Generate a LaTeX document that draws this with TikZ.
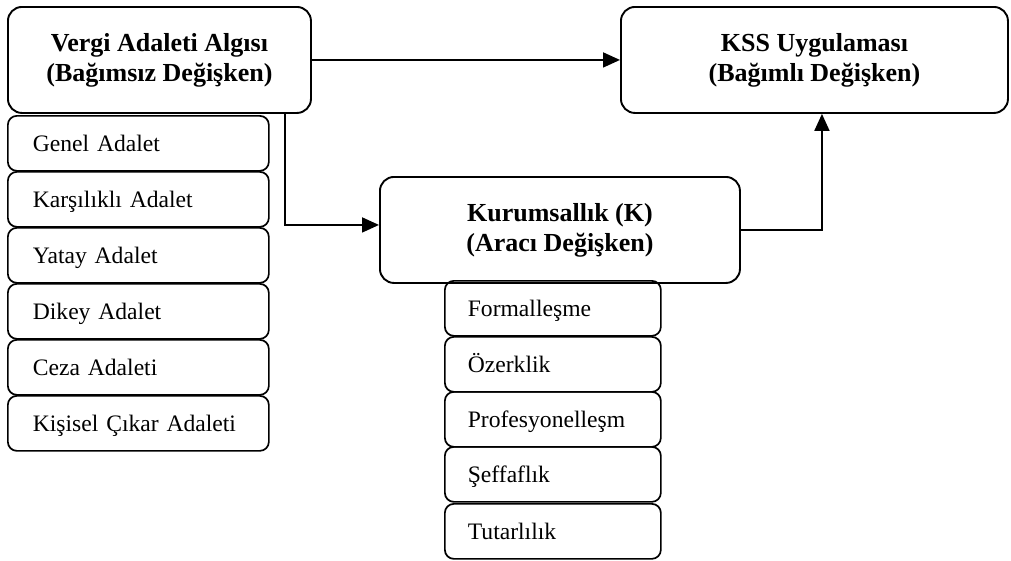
\documentclass[tikz,border=0pt]{standalone}
\usepackage{fontspec}
\setmainfont{Liberation Serif}
\usetikzlibrary{arrows.meta}
\begin{document}
\begin{tikzpicture}[x=1pt,y=-1pt,
  mainbox/.style={draw, line width=1.9pt, rounded corners=14pt, anchor=north west,
    inner sep=0pt, align=center, minimum height=106pt,
    font=\fontsize{26}{30}\selectfont\bfseries},
  itembox/.style={draw, line width=1.7pt, rounded corners=9pt, anchor=north west,
    inner ysep=0pt, align=left, minimum height=55pt,
    text height=18pt, text depth=2pt,
    font=\fontsize{23.6}{27}\selectfont},
  leftitem/.style={itembox, inner xsep=25pt, text width=211pt},
  rightitem/.style={itembox, inner xsep=23pt, text width=170pt},
  link/.style={line width=1.8pt, -{Triangle[length=17pt,width=15pt]}}
]
\useasboundingbox (0,0) rectangle (1011,560);

% main variables
\node[mainbox, minimum width=303pt] (vergi) at (7,6)
  {Vergi Adaleti Algısı\\(Bağımsız Değişken)};
\node[mainbox, minimum width=387pt] (kss) at (620,6)
  {KSS Uygulaması\\(Bağımlı Değişken)};
\node[mainbox, minimum width=360pt] (kurum) at (379,176)
  {Kurumsallık (K)\\(Aracı Değişken)};

% dimensions of tax fairness
\node[leftitem] (a1) at (7,115) {Genel Adalet};
\node[leftitem] (a2) at (7,171) {Karşılıklı Adalet};
\node[leftitem] (a3) at (7,227) {Yatay Adalet};
\node[leftitem] (a4) at (7,283) {Dikey Adalet};
\node[leftitem] (a5) at (7,339) {Ceza Adaleti};
\node[leftitem] (a6) at (7,395) {Kişisel Çıkar Adaleti};

% dimensions of institutionalisation
\node[rightitem] (k1) at (444,280) {Formalleşme};
\node[rightitem] (k2) at (444,336) {Özerklik};
\node[rightitem] (k3) at (444,391) {Profesyonelleşm};
\node[rightitem] (k4) at (444,446) {Şeffaflık};
\node[rightitem] (k5) at (444,503) {Tutarlılık};

% relations
\draw[link] (vergi) -- (kss);
\draw[link] ([xshift=125.5pt]vergi.south) |- ([yshift=5pt]kurum.west);
\draw[link] (kurum.east) -| ([xshift=7.5pt]kss.south);
\end{tikzpicture}
\end{document}
